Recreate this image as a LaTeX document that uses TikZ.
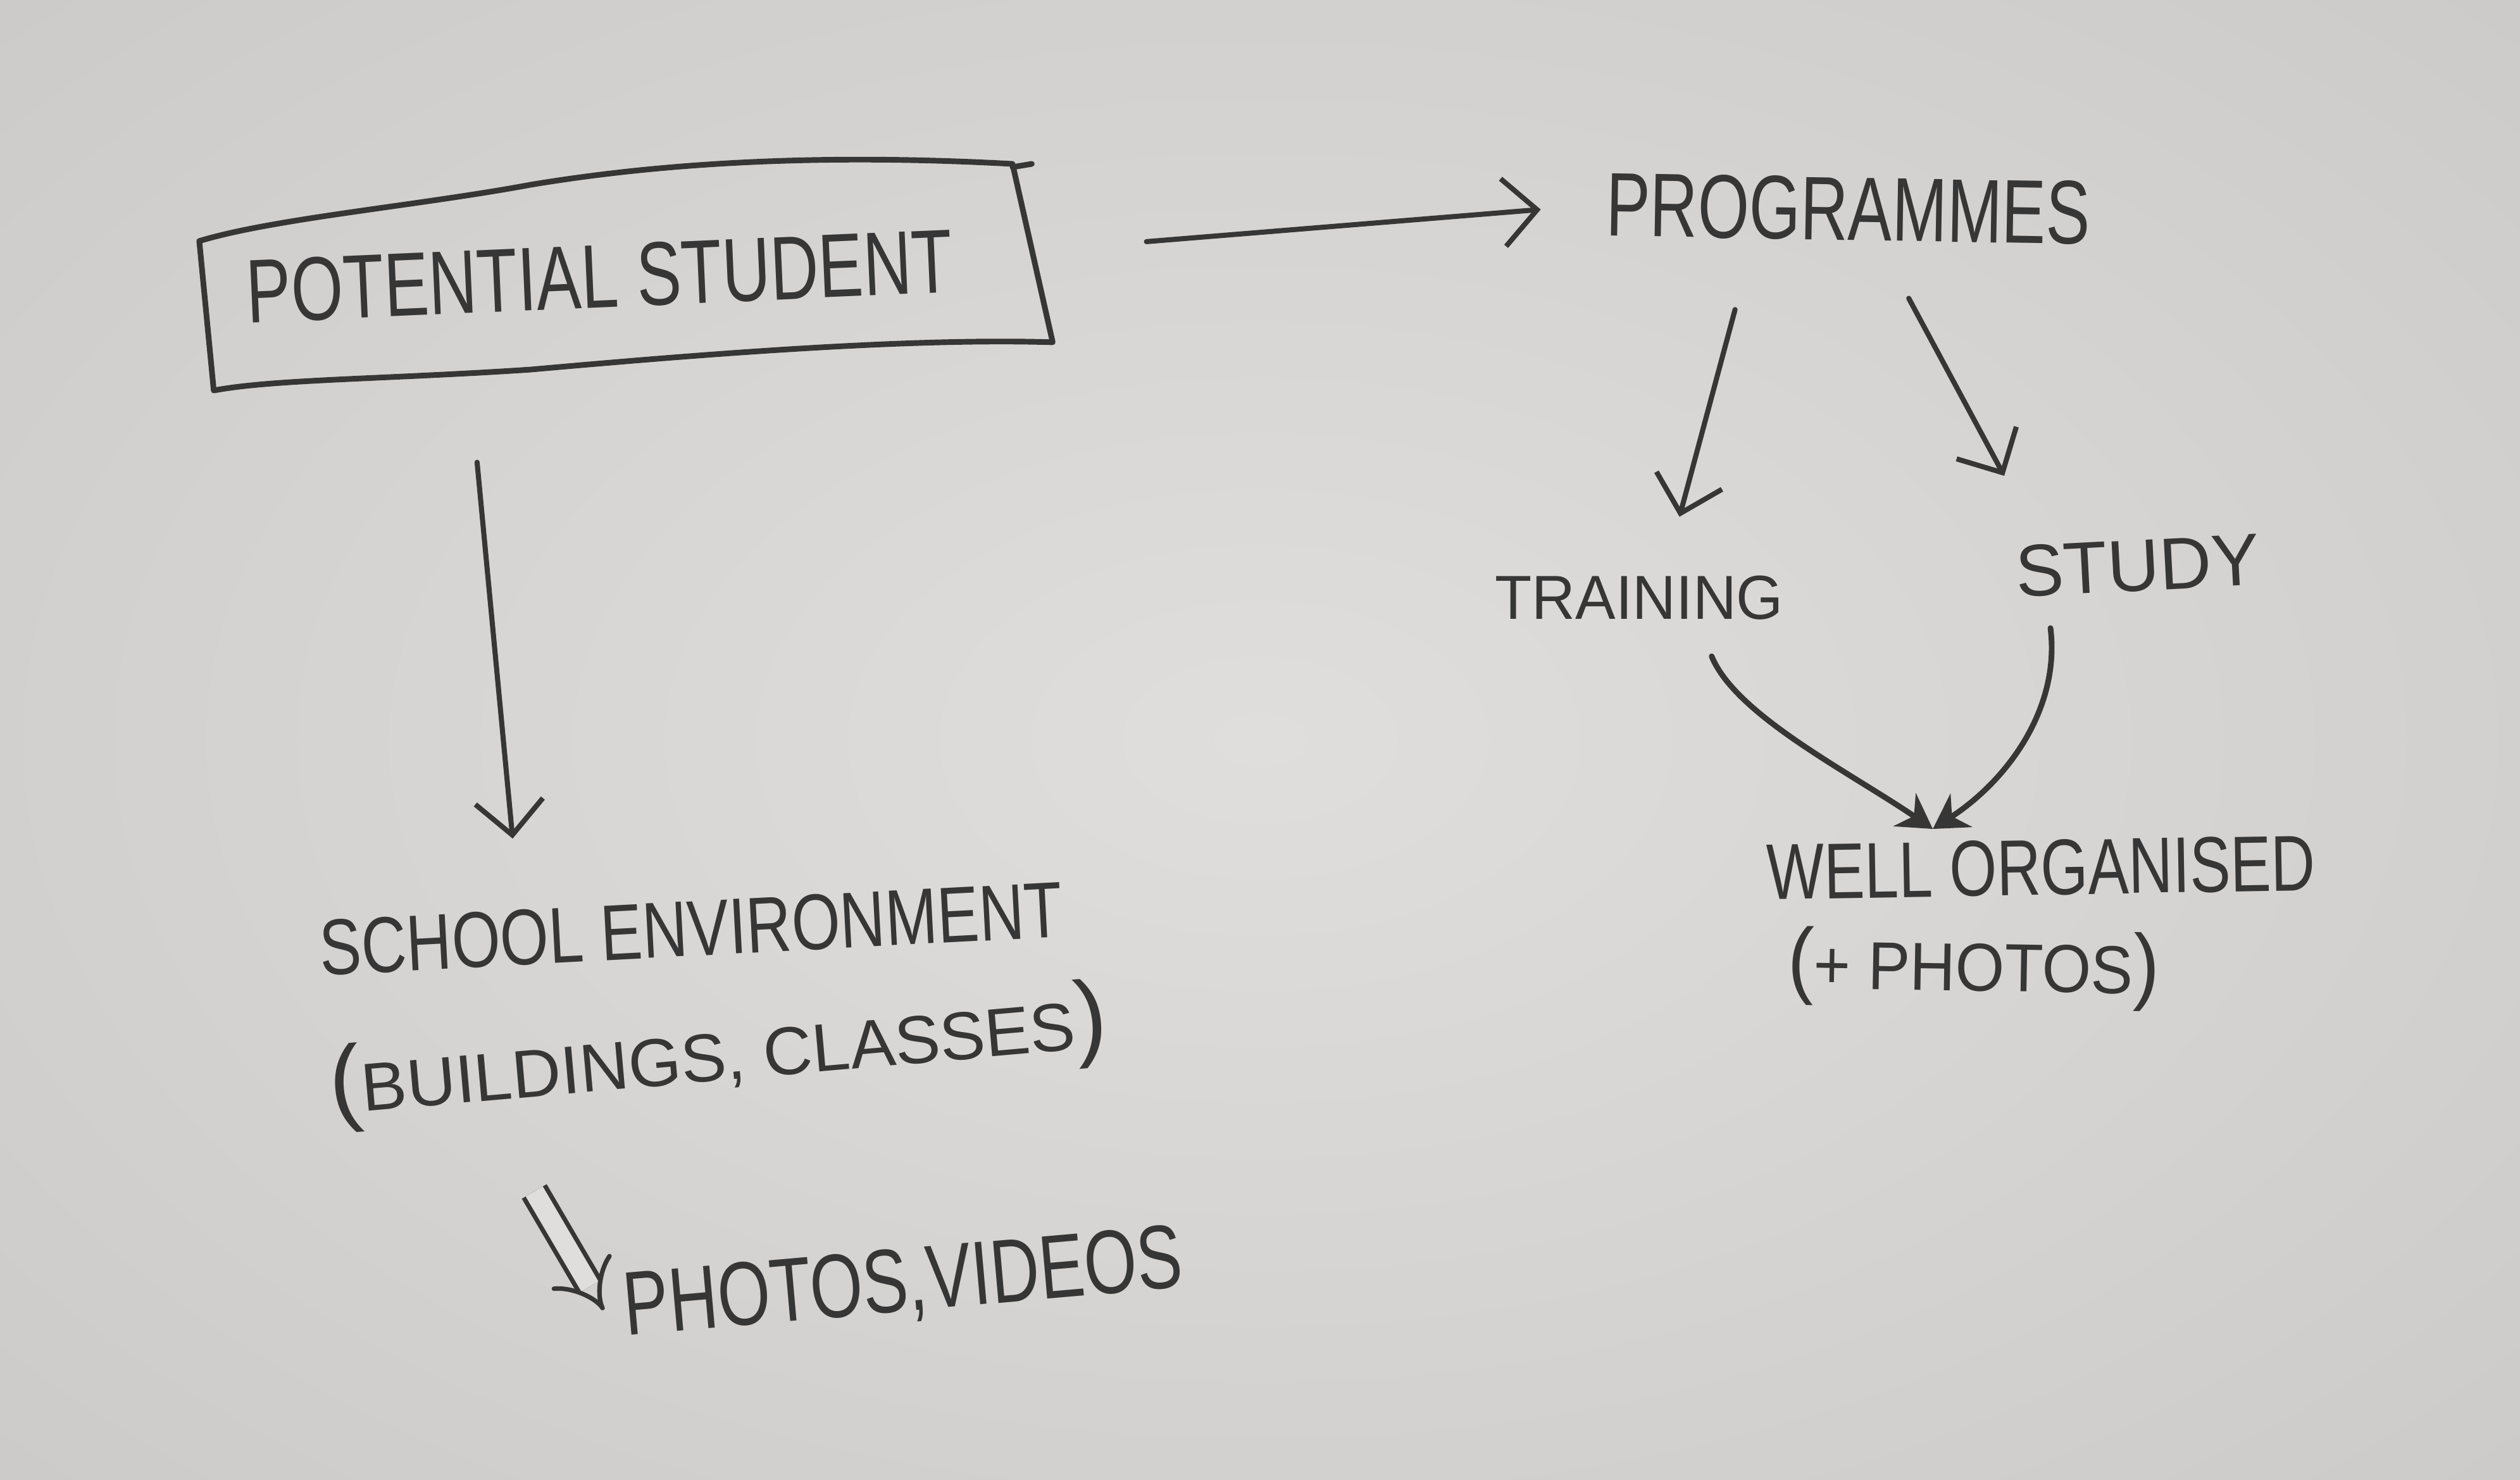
\documentclass[tikz,border=0pt]{standalone}
\usepackage{fontspec}
\setmainfont{Liberation Sans}
\usepackage{graphicx}
\usetikzlibrary{arrows.meta}
\definecolor{ink}{HTML}{363636}
\definecolor{paperhi}{HTML}{DFDEDC}
\definecolor{paperlo}{HTML}{CDCBC9}
\newcommand{\hw}[3]{\fontsize{#1}{#1}\selectfont\scalebox{#2}[1]{#3}}
\begin{document}
\begin{tikzpicture}[x=0.01cm,y=-0.01cm,
  txt/.style={inner sep=0pt, text=ink},
  arr/.style={draw=ink, line width=0.9pt, line cap=round, -{Straight Barb[length=6pt,width=12pt,line width=0.9pt]}},
  pen/.style={draw=ink, line width=1pt, line join=round, line cap=round}]
\useasboundingbox (0,0) rectangle (1568,921);
\begin{scope}
\clip (0,0) rectangle (1568,921);
\shade[inner color=paperhi, outer color=paperlo] (-300,-200) rectangle (1868,1121);
\end{scope}

% nodes
\node[txt, rotate=2.5] (ps) at (373,172) {\hw{16}{0.74}{POTENTIAL STUDENT}};
\node[txt, rotate=-1] (prog) at (1150,130) {\hw{16}{0.73}{PROGRAMMES}};
\node[txt] (train) at (1020,372) {\hw{11}{0.97}{TRAINING}};
\node[txt, rotate=3] (study) at (1330,352) {\hw{13}{0.98}{STUDY}};
\node[txt, rotate=1] (well) at (1270,540) {\hw{14}{0.77}{WELL ORGANISED}};
\node[txt, rotate=-1] (plus) at (1228,603) {\hw{12}{0.93}{\fontsize{15}{15}\selectfont(\fontsize{12}{12}\selectfont{+} PHOTOS\fontsize{15}{15}\selectfont)}};
\node[txt, rotate=3] (school) at (430,578) {\hw{14}{0.79}{SCHOOL ENVIRONMENT}};
\node[txt, rotate=5] (build) at (447,657) {\hw{12}{1.0}{\fontsize{17}{17}\selectfont(\fontsize{12}{12}\selectfont BUILDINGS, CLASSES\fontsize{17}{17}\selectfont)}};
\node[txt, rotate=5] (photos) at (562,800) {\hw{16}{0.75}{PHOTOS,VIDEOS}};

% sketchy box around the first node
\draw[pen] (124,150) .. controls (170,136) and (260,128) .. (330,115)
  .. controls (420,100) and (520,96) .. (630,102) -- (655,213)
  .. controls (560,210) and (420,222) .. (330,230)
  .. controls (240,236) and (170,236) .. (133,243) -- cycle;
\draw[pen] (630,104) -- (642,102);

% connectors
\draw[arr] ([xshift=1.2cm,yshift=0.12cm]ps.east) -- ([xshift=-0.4cm,yshift=-0.03cm]prog.west);
\draw[arr] ([xshift=-0.70cm,yshift=-0.42cm]prog.south) -- ([xshift=0.25cm,yshift=0.36cm]train.north);
\draw[arr] ([xshift=0.38cm,yshift=-0.35cm]prog.south) -- ([xshift=-0.82cm,yshift=0.39cm]study.north);
\draw[arr] ([xshift=-0.77cm,yshift=-0.95cm]ps.south) -- ([xshift=-1.10cm,yshift=0.38cm]school.north);
\draw[pen, -{Stealth[length=6pt,width=7pt]}] ([xshift=0.45cm,yshift=-0.22cm]train.south)
  .. controls (1080,445) and (1150,480) .. ([xshift=-0.67cm,yshift=0.06cm]well.north);
\draw[pen, -{Stealth[length=6pt,width=7pt]}] ([xshift=-0.55cm,yshift=-0.22cm]study.south)
  .. controls (1282,440) and (1250,485) .. ([xshift=-0.67cm,yshift=0.06cm]well.north);
\draw[draw=ink, line width=0.8pt, double=paperhi, double distance=3.5pt, -{Implies}]
  ([xshift=-1.17cm,yshift=-0.56cm]build.south) -- ([xshift=-0.12cm]photos.west);
\end{tikzpicture}
\end{document}
